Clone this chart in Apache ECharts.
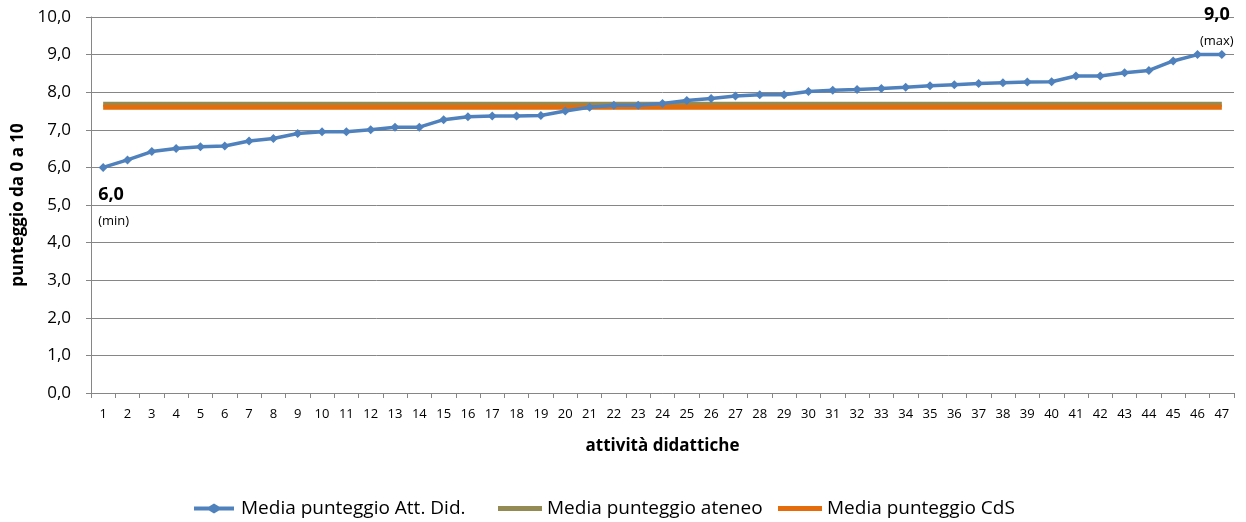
<!DOCTYPE html>
<html>
<head>
<meta charset="utf-8">
<script src="https://cdn.jsdelivr.net/npm/echarts@6/dist/echarts.min.js"></script>
<style>
  html, body { margin: 0; padding: 0; background: #fff; }
  #chart { width: 1246px; height: 522px; }
</style>
</head>
<body>
<div id="chart"></div>
<script>
// attività didattiche 1..47
const categories = [];
for (let i = 1; i <= 47; i++) categories.push(String(i));

const mediaAttDid = [
    6.0, 6.2, 6.42, 6.5, 6.55, 6.57, 6.7, 6.77, 6.9, 6.95,
    6.95, 7.0, 7.07, 7.07, 7.27, 7.35, 7.37, 7.37, 7.38, 7.5,
    7.6, 7.65, 7.65, 7.7, 7.78, 7.83, 7.9, 7.93, 7.93, 8.02,
    8.05, 8.07, 8.1, 8.13, 8.17, 8.2, 8.23, 8.25, 8.27, 8.28,
    8.43, 8.43, 8.52, 8.58, 8.83, 9.0, 9.0
];
const mediaAteneo = 7.68;
const mediaCdS = 7.6;

const seriesNames = ['Media punteggio Att. Did.', 'Media punteggio ateneo', 'Media punteggio CdS'];

const FONT = 'Open Sans';
const fmt = v => v.toFixed(1).replace('.', ',');

let chart = echarts.init(document.getElementById('chart'));

const richMinMax = {
    b: { fontFamily: FONT, fontWeight: 'bold', fontSize: 18, color: '#000', lineHeight: 27 },
    s: { fontFamily: FONT, fontSize: 13, color: '#000', lineHeight: 27 }
};

let attData = mediaAttDid.map((v, i) => {
    if (i === 0) {
        return {
            value: v,
            label: {
                show: true, position: 'bottom', distance: 10, align: 'left', offset: [-5, -1],
                formatter: '{b|' + fmt(v) + '}\n{s|(min)}',
                rich: richMinMax
            }
        };
    }
    if (i === mediaAttDid.length - 1) {
        return {
            value: v,
            label: {
                show: true, position: 'top', distance: 0, offset: [-5, 5],
                formatter: '{b|' + fmt(v) + '}\n{s|(max)}',
                rich: richMinMax
            }
        };
    }
    return v;
});

// legend icons: thick line, with a diamond for the activity series
const iconDiamondLine = 'path://M0,3L15,3L20,0L25,3L40,3L40,7L25,7L20,10L15,7L0,7Z';
const iconThickLine = 'path://M0,0L40,0L40,4.5L0,4.5Z';

function legendAt(left, name, icon, color) {
    let item = { name: name, icon: icon };
    if (color) item.itemStyle = { color: color };
    return {
        bottom: -1,
        left: left,
        itemWidth: 44,
        itemHeight: 10,
        textStyle: { fontFamily: FONT, fontSize: 19, color: '#000' },
        data: [item]
    };
}

let option = {
    animation: false,
    textStyle: { fontFamily: FONT },
    grid: { left: 91, right: 12, top: 17, bottom: 129, outerBoundsMode: 'none', containLabel: false },
    legend: [
        legendAt(189, seriesNames[0], iconDiamondLine),
        legendAt(493, seriesNames[1], iconThickLine, '#948A54'),
        legendAt(773, seriesNames[2], iconThickLine, '#E46C0A')
    ],
    xAxis: {
        type: 'category',
        data: categories,
        boundaryGap: true,
        name: 'attività didattiche',
        nameLocation: 'middle',
        nameGap: 45,
        nameTextStyle: { fontFamily: FONT, fontWeight: 'bold', fontSize: 17, color: '#000' },
        axisLine: { lineStyle: { color: '#868686', width: 1 } },
        axisTick: { show: true, alignWithLabel: false, length: 5, lineStyle: { color: '#868686' } },
        axisLabel: { fontFamily: FONT, fontSize: 13, color: '#000', interval: 0, margin: 15 },
        splitLine: { show: false }
    },
    yAxis: {
        type: 'value',
        min: 0,
        max: 10,
        interval: 1,
        name: 'punteggio da 0 a 10',
        nameLocation: 'middle',
        nameGap: 64,
        nameTextStyle: { fontFamily: FONT, fontWeight: 'bold', fontSize: 17, color: '#000' },
        axisLine: { show: true, lineStyle: { color: '#868686', width: 1 } },
        axisTick: { show: true, length: 5, lineStyle: { color: '#868686' } },
        axisLabel: { fontFamily: FONT, fontSize: 17, color: '#000', margin: 20, formatter: v => fmt(v) },
        splitLine: { show: true, lineStyle: { color: '#868686', width: 1 } }
    },
    series: [
        {
            name: seriesNames[1],
            type: 'line',
            data: categories.map(() => mediaAteneo),
            symbol: 'none',
            lineStyle: { color: '#948A54', width: 5 },
            itemStyle: { color: '#948A54' },
            z: 2
        },
        {
            name: seriesNames[2],
            type: 'line',
            data: categories.map(() => mediaCdS),
            symbol: 'none',
            lineStyle: { color: '#E46C0A', width: 5 },
            itemStyle: { color: '#E46C0A' },
            z: 3
        },
        {
            name: seriesNames[0],
            type: 'line',
            data: attData,
            symbol: 'diamond',
            symbolSize: 9,
            lineStyle: { color: '#4F81BD', width: 3.5 },
            itemStyle: { color: '#4F81BD' },
            z: 4
        }
    ]
};
chart.setOption(option);
</script>
</body>
</html>
